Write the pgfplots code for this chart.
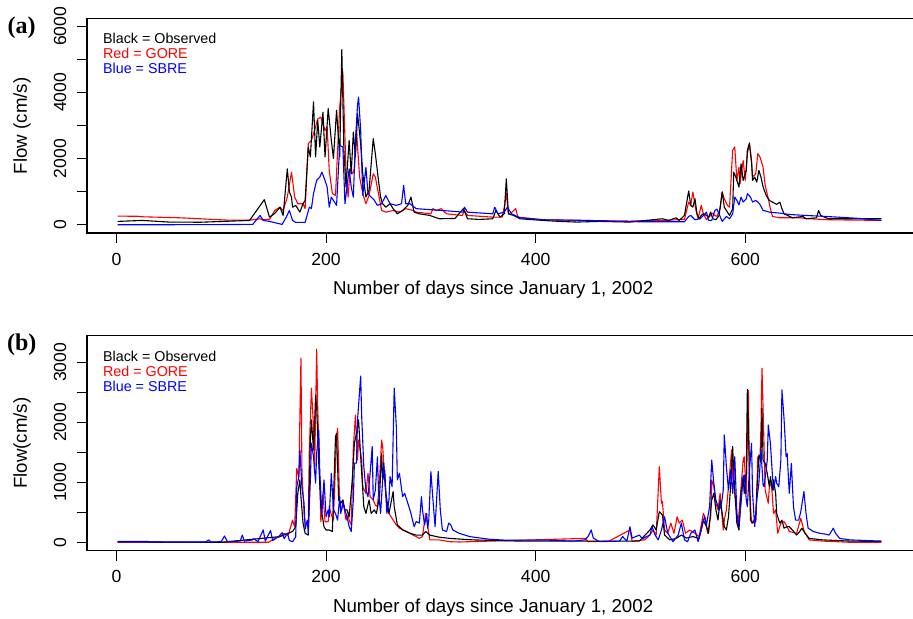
\documentclass[border=0pt]{standalone}
\usepackage{fontspec}
\setmainfont{Liberation Sans}
\newfontfamily\panelfont{Liberation Serif}
\usepackage{pgfplots}
\pgfplotsset{compat=1.18}

\pgfplotsset{
  rpanel/.style={
    scale only axis,
    width=414pt,
    xmin=-28.16, xmax=762.0,
    axis line style={line width=0.6pt},
    tick align=outside,
    major tick length=5pt,
    every tick/.style={black, line width=0.5pt},
    xtick pos=left, ytick pos=left,
    xtick={0,200,400,600},
    xticklabels={0,200,400,600},
    tick label style={font=\fontsize{8.8}{10}\selectfont},
    xticklabel style={anchor=center, yshift=-8pt},
    yticklabel style={xshift=-8.5pt, rotate=90, anchor=center},
    every axis x label/.style={at={(axis description cs:0.4905,0)}, yshift=-28.5pt, anchor=center, font=\fontsize{9.35}{11}\selectfont},
    every axis y label/.style={at={(axis description cs:0,0.5)}, xshift=-32.5pt, rotate=90, anchor=center, font=\fontsize{9.35}{11}\selectfont},
    xlabel={Number of days since January 1, 2002},
    every axis plot/.append style={mark=none, line width=0.55pt, line join=round},
  },
}
\tikzset{key/.style={anchor=west, inner sep=0pt, font=\fontsize{7.15}{8}\selectfont}}

\begin{document}
\begin{tikzpicture}
\useasboundingbox (0,0) rectangle (456.5pt,309.5pt);

% panel (a)
\begin{axis}[rpanel, at={(43.5pt,193pt)}, anchor=south west,
  height=107.25pt, ymin=-250, ymax=6235,
  ytick={0,1000,...,6000}, yticklabels={0,,2000,,4000,,6000},
  ylabel={Flow (cm/s)}]
\addplot[red] coordinates {
(1,260) (20,255) (25,240) (60,210) (80,180) (105,140) (128,140) (137,180) (139,150) (146,160)
(151,430) (156,530) (159,430) (163,835) (167,1590) (170,835) (173,635) (178,635) (180,485)
(183,2450) (186,2550) (189,2850) (192,3200) (195,3250) (199,2850) (201,2950) (203,1640)
(206,940) (209,885) (211,2250) (213,3560) (216,4620) (219,1640) (221,835) (223,1690)
(225,1540) (227,1690) (229,2850) (232,1440) (235,940) (238,635) (241,885) (245,1540)
(247,1440) (250,940) (253,430) (257,380) (264,430) (270,380) (276,485) (283,430) (286,380)
(300,330) (302,485) (305,430) (310,485) (313,380) (315,330) (330,280) (332,430) (335,280)
(359,230) (368,230) (370,530) (372,940) (374,330) (377,370) (379,430) (381,485) (383,230)
(407,150) (442,130) (490,110) (521,130) (542,160) (546,685) (548,585) (550,990) (553,430)
(555,180) (558,585) (560,330) (563,150) (569,350) (571,280) (573,250) (576,485) (578,990)
(580,785) (583,585) (585,530) (588,2250) (590,2350) (592,1340) (594,1740) (595,1240)
(598,1940) (600,1340) (602,2150) (604,2430) (606,1940) (607,1440) (610,1540) (612,2150)
(614,2050) (617,1740) (619,1190) (622,785) (624,485) (626,250) (633,210) (652,210)
(661,180) (680,150) (730,130)
};
\addplot[black] coordinates {
(1,100) (25,130) (50,80) (80,75) (110,110) (127,130) (141,757) (146,230) (151,340) (156,530)
(159,280) (163,1690) (165,990) (167,835) (168,530) (171,585) (175,380) (178,635) (180,735)
(183,2350) (185,2050) (188,3710) (190,2050) (192,3160) (194,2350) (197,3400) (199,2050)
(202,3510) (205,2550) (207,2000) (210,3460) (213,2050) (215,5295) (217,2250) (219,1140)
(222,2550) (224,1540) (226,2800) (228,2050) (230,3360) (233,2450) (235,1540) (238,835)
(241,1040) (245,2600) (247,2150) (250,1340) (252,835) (254,635) (257,530) (261,635)
(264,485) (268,330) (273,430) (278,585) (281,835) (284,380) (289,330) (299,280) (308,180)
(323,190) (331,485) (335,180) (346,160) (359,180) (362,430) (366,230) (370,330) (372,1390)
(374,330) (379,280) (385,180) (407,130) (423,100) (439,80) (461,100) (490,80) (499,110)
(521,180) (527,130) (534,210) (537,130) (542,280) (546,1020) (548,585) (550,530) (552,785)
(554,330) (556,180) (558,280) (560,330) (563,280) (565,230) (567,380) (569,180) (572,150)
(575,280) (578,990) (580,530) (582,430) (585,280) (588,485) (589,1590) (591,1440) (594,1140)
(596,1840) (598,1340) (601,1640) (602,2250) (604,2470) (606,1890) (607,1340) (609,1440)
(611,1290) (613,1640) (615,1440) (617,1140) (620,885) (623,735) (626,685) (630,615)
(633,685) (635,485) (637,330) (645,210) (655,250) (658,180) (668,210) (670,430) (672,280)
(677,210) (680,180) (709,180) (730,180)
};
\addplot[blue] coordinates {
(1,0) (50,0) (100,5) (130,10) (137,280) (140,130) (146,100) (158,10) (162,230) (165,430)
(168,130) (171,70) (180,70) (184,530) (186,490) (188,940) (191,1340) (194,1440) (196,1590)
(199,1340) (201,1140) (203,530) (205,835) (207,735) (210,585) (213,2400) (216,2350)
(218,635) (222,1690) (224,1140) (226,835) (228,2550) (230,3610) (231,3860) (233,2850)
(235,885) (238,1740) (240,940) (243,835) (246,740) (249,585) (253,635) (257,885) (261,635)
(267,585) (272,635) (274,1190) (276,635) (280,635) (286,485) (311,430) (331,380) (332,530)
(335,380) (359,330) (361,530) (364,330) (370,380) (373,530) (377,330) (385,210) (407,150)
(451,130) (480,100) (499,90) (542,90) (546,250) (548,280) (552,150) (557,180) (563,380)
(565,130) (568,130) (571,430) (573,470) (576,250) (578,100) (582,250) (585,180) (588,330)
(590,835) (592,735) (594,600) (596,835) (598,685) (601,785) (602,940) (605,835) (607,685)
(610,735) (612,685) (614,615) (617,430) (620,410) (623,380) (633,350) (642,310) (658,280)
(677,250) (709,190) (730,130)
};
\node[key, text=black] at (rel axis cs:0.019,0.909) {Black = Observed};
\node[key, text=red] at (rel axis cs:0.019,0.837) {Red = GORE};
\node[key, text=blue] at (rel axis cs:0.019,0.765) {Blue = SBRE};
\end{axis}

% panel (b)
\begin{axis}[rpanel, at={(43.5pt,34.15pt)}, anchor=south west,
  height=107.5pt, ymin=-140, ymax=3443,
  ytick={0,500,...,3000}, yticklabels={0,,1000,,2000,,3000},
  ylabel={Flow(cm/s)}]
\addplot[red] coordinates {
(1,0) (145,0) (151,65) (156,95) (160,150) (164,120) (168,370) (170,260) (172,1230) (174,1095)
(176,3070) (177,1150) (179,480) (180,320) (183,345) (184,1540) (186,2570) (188,1930)
(189,1150) (191,3220) (192,2260) (194,1040) (195,345) (197,815) (199,340) (202,345)
(203,595) (205,455) (207,370) (210,1760) (211,1900) (213,595) (215,540) (216,705) (219,370)
(221,455) (222,370) (224,290) (226,1570) (228,2120) (230,1370) (231,1705) (234,1370)
(235,925) (238,815) (240,1150) (242,760) (245,705) (247,620) (249,595) (251,1040) (253,1705)
(254,1595) (256,1040) (258,595) (260,480) (264,370) (267,290) (270,235) (277,180) (283,120)
(286,95) (289,65) (292,95) (295,480) (297,260) (299,40) (308,40) (318,10) (327,5) (447,65)
(450,10) (470,20) (490,205) (492,20) (504,40) (509,120) (512,205) (515,120) (518,1260)
(520,650) (521,680) (523,205) (526,150) (529,320) (532,150) (535,425) (537,320) (540,370)
(543,150) (547,205) (552,150) (556,95) (560,480) (562,405) (564,150) (567,425) (568,1040)
(570,925) (572,650) (574,540) (576,815) (579,205) (580,370) (582,540) (584,925) (587,1540)
(588,1095) (591,650) (593,260) (595,705) (598,1370) (599,1425) (601,815) (603,2530)
(604,925) (606,320) (608,370) (610,345) (612,1425) (614,1370) (615,1930) (616,2900)
(618,1570) (619,870) (622,650) (623,925) (625,985) (627,480) (629,540) (631,150) (634,320)
(637,345) (640,260) (642,180) (649,150) (653,400) (656,195) (661,40) (674,20) (700,0) (730,0)
};
\addplot[black] coordinates {
(1,15) (30,15) (31,5) (100,0) (156,95) (168,180) (171,260) (173,815) (175,1040) (176,760)
(178,320) (180,150) (183,120) (185,1705) (186,2040) (188,1540) (190,2455) (191,2260)
(193,1320) (195,595) (198,260) (200,205) (203,205) (206,180) (209,1760) (210,1815) (212,705)
(214,650) (216,705) (218,540) (220,540) (222,425) (225,1040) (227,1650) (229,1815) (231,2040)
(233,1425) (236,595) (238,480) (241,705) (243,480) (246,540) (248,480) (251,760) (253,1480)
(254,1040) (256,1200) (257,815) (259,595) (260,480) (264,845) (265,595) (268,290) (273,205)
(280,150) (286,120) (292,120) (295,180) (299,120) (308,85) (318,65) (340,40) (385,20)
(441,20) (499,20) (509,205) (512,290) (515,205) (518,510) (521,455) (523,120) (528,40)
(534,65) (539,120) (544,70) (550,95) (556,65) (560,370) (563,260) (565,150) (568,705)
(570,815) (572,540) (574,370) (576,705) (578,480) (580,260) (582,205) (584,425) (586,925)
(588,1595) (589,1150) (591,595) (592,320) (594,205) (596,815) (598,1095) (599,815) (601,1150)
(602,2550) (603,1930) (605,370) (607,320) (610,370) (611,815) (613,1455) (615,1390)
(616,2230) (617,1370) (619,1315) (621,1150) (623,925) (624,1095) (626,870) (627,1040)
(629,815) (630,480) (633,320) (635,370) (637,235) (640,260) (642,260) (645,205) (649,120)
(652,180) (654,235) (657,150) (661,65) (674,40) (700,20) (730,15)
};
\addplot[blue] coordinates {
(1,5) (85,5) (88,40) (90,5) (100,10) (103,105) (106,10) (118,20) (120,120) (122,20) (130,40)
(131,60) (135,10) (140,205) (142,20) (147,195) (149,30) (155,100) (158,160) (160,60)
(163,150) (165,30) (168,10) (171,90) (172,925) (174,1095) (175,1540) (177,905) (179,650)
(180,220) (182,370) (183,150) (185,1040) (186,1650) (188,1425) (190,985) (191,1480)
(193,1870) (194,1150) (196,480) (198,1040) (200,425) (202,540) (203,425) (205,1150)
(207,540) (209,480) (211,370) (213,760) (214,480) (216,650) (219,480) (221,345) (222,260)
(224,180) (226,705) (227,1320) (229,1320) (230,2040) (233,2770) (234,2090) (236,1260)
(238,870) (240,760) (242,1150) (244,1595) (245,705) (247,870) (249,1425) (250,870) (252,480)
(254,1040) (255,1320) (257,815) (258,480) (260,705) (261,1095) (263,925) (265,2570)
(267,1930) (268,1040) (270,1150) (273,760) (275,815) (277,705) (280,540) (281,480) (284,260)
(286,345) (289,320) (291,760) (292,540) (294,290) (296,480) (297,235) (298,370) (300,1180)
(302,705) (304,260) (307,1180) (309,540) (311,205) (315,180) (317,320) (319,290) (321,205)
(327,150) (337,95) (356,50) (372,35) (413,35) (436,20) (447,40) (450,95) (453,205) (455,70)
(461,10) (480,20) (483,95) (487,20) (490,260) (492,70) (499,120) (502,55) (505,90) (509,120)
(511,260) (514,120) (517,40) (520,205) (523,425) (526,155) (531,10) (536,120) (539,320)
(542,40) (545,10) (548,150) (552,205) (555,10) (558,205) (561,425) (563,290) (566,595)
(568,1370) (570,985) (572,705) (575,540) (577,595) (579,870) (580,1790) (582,1260) (584,870)
(586,1205) (588,815) (590,1425) (592,480) (594,260) (596,650) (598,1095) (599,1120)
(601,705) (602,595) (604,1205) (606,1650) (607,815) (609,260) (611,705) (613,985) (615,1540)
(617,955) (618,925) (621,1370) (622,1955) (624,1650) (626,1095) (627,870) (629,1095)
(630,985) (632,925) (634,1370) (635,2540) (637,2065) (639,1425) (640,1480) (642,815)
(644,1315) (646,595) (648,370) (651,370) (653,510) (656,845) (658,480) (660,235) (665,180)
(671,150) (677,135) (680,120) (683,205) (684,235) (686,155) (690,65) (700,40) (730,20)
};
\node[key, text=black] at (rel axis cs:0.019,0.906) {Black = Observed};
\node[key, text=red] at (rel axis cs:0.019,0.836) {Red = GORE};
\node[key, text=blue] at (rel axis cs:0.019,0.765) {Blue = SBRE};
\end{axis}

\node[font=\panelfont\bfseries\fontsize{12}{14}\selectfont] at (10.85pt,295.5pt) {(a)};
\node[font=\panelfont\bfseries\fontsize{12}{14}\selectfont] at (10.85pt,137pt) {(b)};
\end{tikzpicture}
\end{document}
